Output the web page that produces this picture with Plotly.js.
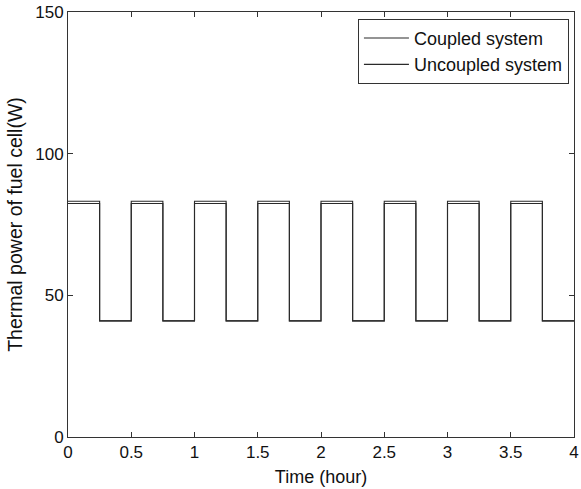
<!DOCTYPE html>
<html>
<head>
<meta charset="utf-8">
<script src="https://cdn.plot.ly/plotly-3.0.1.min.js"></script>
<style>html,body{margin:0;padding:0;background:#fff;}#chart{width:581px;height:489px;}</style>
</head>
<body>
<div id="chart"></div>
<script>
// Data (step profile, value held until next time point)
const timeHours = [0, 0.25, 0.5, 0.75, 1, 1.25, 1.5, 1.75, 2, 2.25, 2.5, 2.75, 3, 3.25, 3.5, 3.75, 4];
const coupledPower = [83.2, 41, 83.2, 41, 83.2, 41, 83.2, 41, 83.2, 41, 83.2, 41, 83.2, 41, 83.2, 41, 41];
const uncoupledPower = [82.4, 41, 82.4, 41, 82.4, 41, 82.4, 41, 82.4, 41, 82.4, 41, 82.4, 41, 82.4, 41, 41];
const seriesNames = ["Coupled system", "Uncoupled system"];
const xTickVals = [0, 0.5, 1, 1.5, 2, 2.5, 3, 3.5, 4];
const xTickText = ["0", "0.5", "1", "1.5", "2", "2.5", "3", "3.5", "4"];
const yTickVals = [0, 50, 100, 150];

const fam = "Liberation Sans, Arial, sans-serif";
const tickFont = {family: fam, size: 17, color: "#111"};
const legendFont = {family: fam, size: 18, color: "#111"};
const xTitleFont = {family: fam, size: 18, color: "#111"};
const yTitleFont = {family: fam, size: 19.5, color: "#111"};

const traces = [
  {x: timeHours, y: coupledPower, name: seriesNames[0], mode: "lines",
   line: {shape: "hv", color: "#2a2a2a", width: 1.1}},
  {x: timeHours, y: uncoupledPower, name: seriesNames[1], mode: "lines",
   line: {shape: "hv", color: "#2a2a2a", width: 1.1}}
];

const axisCommon = {
  showline: true, mirror: "ticks", linecolor: "#333", linewidth: 1,
  ticks: "inside", ticklen: 5, tickcolor: "#333", tickwidth: 1,
  showgrid: false, zeroline: false, tickfont: tickFont, automargin: false
};

const layout = {
  width: 581, height: 489,
  margin: {l: 68, r: 7, t: 12, b: 52},
  paper_bgcolor: "#fff", plot_bgcolor: "#fff",
  font: tickFont,
  showlegend: true,
  legend: {x: 0.99, y: 0.984, xanchor: "right", yanchor: "top",
    bordercolor: "#333", borderwidth: 1, bgcolor: "#fff",
    font: legendFont, tracegroupgap: 0, itemwidth: 45},
  xaxis: Object.assign({}, axisCommon, {
    range: [0, 4], tickvals: xTickVals, ticktext: xTickText,
    title: {text: "Time (hour)", font: xTitleFont, standoff: 8}
  }),
  yaxis: Object.assign({}, axisCommon, {
    range: [0, 150], tickvals: yTickVals,
    title: {text: "Thermal power of fuel cell(W)", font: yTitleFont, standoff: 7}
  })
};

Plotly.newPlot("chart", traces, layout, {displayModeBar: false, staticPlot: true});
</script>
</body>
</html>
